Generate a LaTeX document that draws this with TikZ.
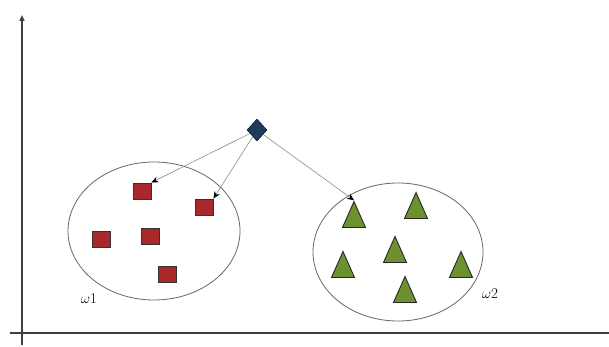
\documentclass[tikz,border=0pt]{standalone}
\usetikzlibrary{shapes.geometric,arrows.meta}
\definecolor{sqred}{HTML}{A8282C}
\definecolor{trigreen}{HTML}{6E9130}
\definecolor{dianavy}{HTML}{1E3A5C}
\begin{document}
\begin{tikzpicture}[x=1pt,y=-1pt,
  axis/.style={draw=black!75,line width=1.6pt},
  cluster/.style={draw=black!60,line width=0.8pt},
  sq/.style={rectangle,draw=black!80,line width=0.9pt,fill=sqred,minimum width=18pt,minimum height=16pt,inner sep=0pt},
  tri/.style={isosceles triangle,isosceles triangle stretches,rotate=90,draw=black!85,line width=0.9pt,fill=trigreen,minimum width=23pt,minimum height=26pt,inner sep=0pt},
  probe/.style={diamond,draw=black,fill=dianavy,minimum width=20pt,minimum height=22pt,inner sep=0pt},
  link/.style={draw=black!45,line width=0.6pt,-{Stealth[length=7pt,width=6pt,black]}},
  lbl/.style={font=\fontsize{15}{17}\selectfont,inner sep=0pt}]
\useasboundingbox (0,0) rectangle (609,347);
% axes
\coordinate (yb) at (22,345);
\coordinate (yt) at (22,15);
\coordinate (xl) at (10,333);
\coordinate (xr) at (609,333);
\draw[axis,-{Triangle[length=6pt,width=5pt]}] (yb) -- (yt);
\draw[axis] (xl) -- (xr);
% class regions
\node[cluster,ellipse,minimum width=172pt,minimum height=138pt] (c1) at (154,231) {};
\node[cluster,ellipse,minimum width=170pt,minimum height=138pt] (c2) at (398,252) {};
% class 1 samples
\node[sq] (s1) at (142,191) {};
\node[sq] (s2) at (204,207) {};
\node[sq] (s3) at (101,239) {};
\node[sq] (s4) at (150,236) {};
\node[sq] (s5) at (167,274) {};
% class 2 samples
\node[tri] (t1) at (354,220) {};
\node[tri] (t2) at (416,211) {};
\node[tri] (t3) at (395,255) {};
\node[tri] (t4) at (343,270) {};
\node[tri] (t5) at (461,270) {};
\node[tri] (t6) at (405,295) {};
% unknown sample
\node[probe] (p) at (257,130) {};
\draw[link] (p) -- (s1.north east);
\draw[link] (p) -- (s2.north east);
\draw[link] (p) -- (t1.apex);
% labels
\node[lbl] (w1) at (89,299) {$\omega$1};
\node[lbl] (w2) at (490,294) {$\omega$2};
\end{tikzpicture}
\end{document}
